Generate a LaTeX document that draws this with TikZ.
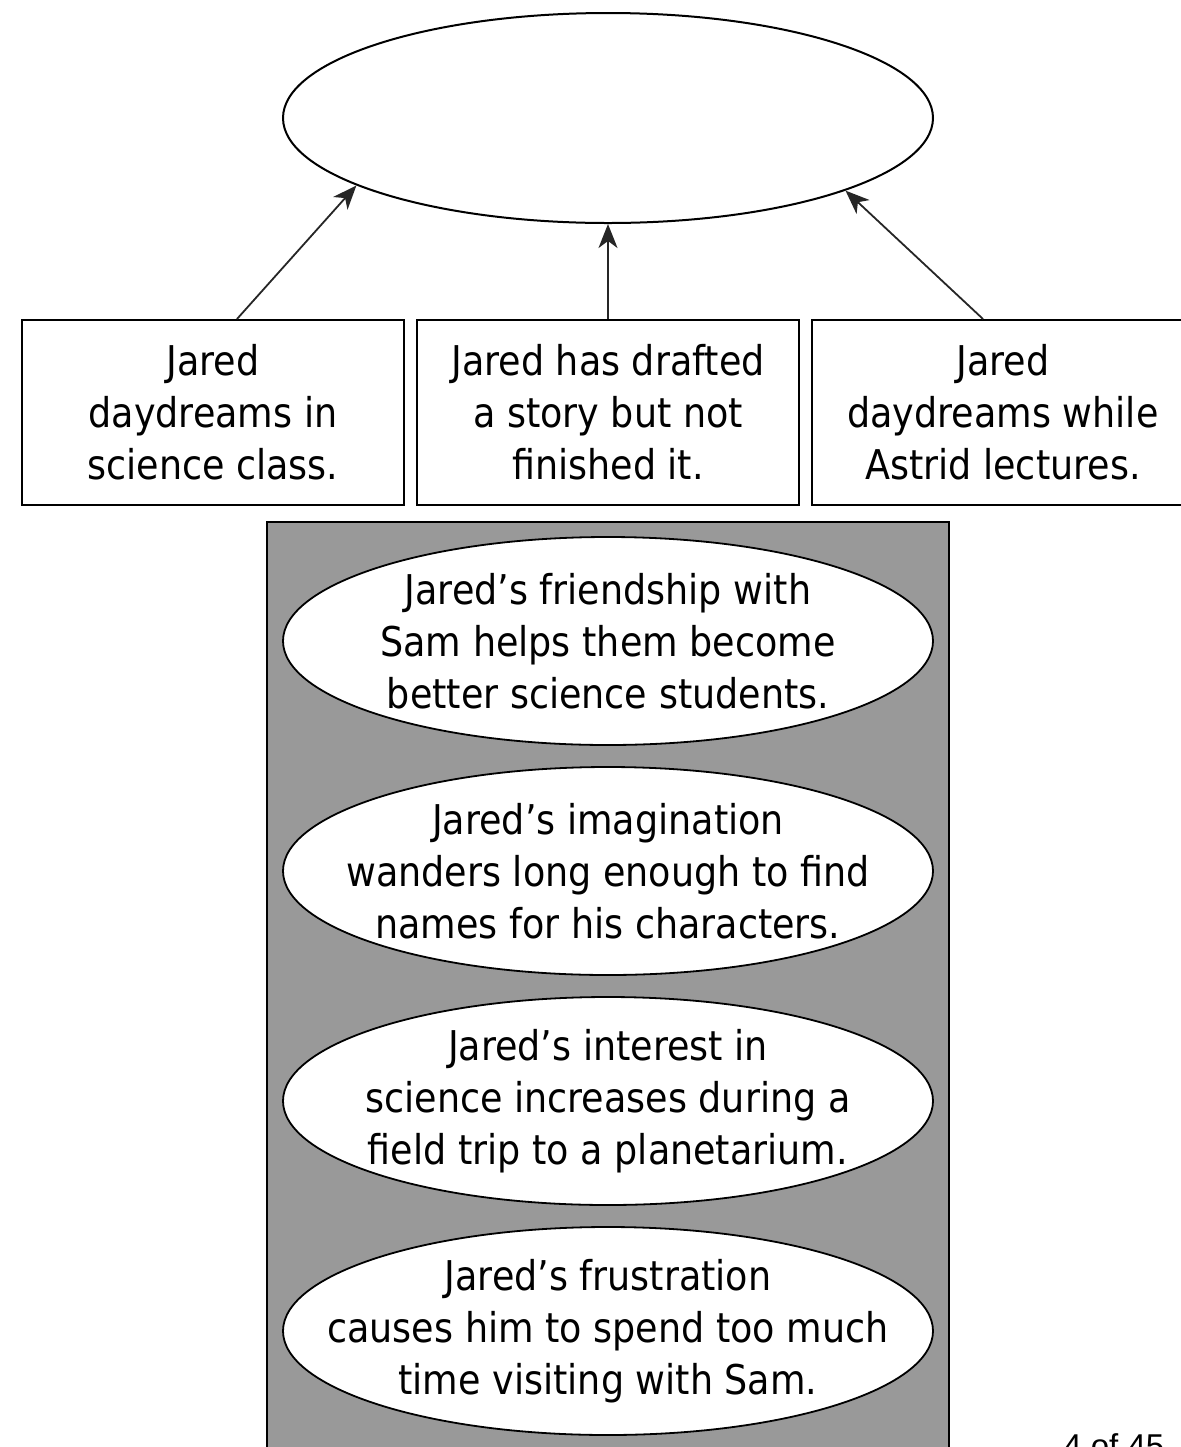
\documentclass[tikz,border=0pt]{standalone}
\usepackage{fontspec}
\setmainfont{DejaVu Sans}[FakeStretch=0.89]
\newfontfamily\pagefont{Liberation Sans}
\usetikzlibrary{shapes.geometric,arrows.meta,calc}
\definecolor{panelgray}{HTML}{999999}
\tikzset{
  txt/.style={font=\fontsize{20.5pt}{26pt}\selectfont, align=center, text=black},
  topell/.style={ellipse, draw=black, line width=1pt, fill=white, minimum width=325pt, minimum height=105pt, inner sep=0pt},
  optell/.style={ellipse, draw=black, line width=0.9pt, fill=white, minimum width=325pt, minimum height=104pt, inner sep=0pt},
  opttxt/.style={txt, inner sep=0pt},
  detbox/.style={rectangle, draw=black, line width=1pt, fill=white, minimum width=191pt, minimum height=92.5pt, inner sep=0pt, txt},
  arr/.style={draw=black!85, line width=0.9pt, -{Stealth[length=12pt,width=9.5pt,inset=3.5pt]}},
}
\begin{document}
\begin{tikzpicture}[x=0.5pt,y=-0.5pt]
\useasboundingbox (0,0) rectangle (1181,1447);
\clip (0,0) rectangle (1181,1447);
% top empty ellipse
\node[topell] (top) at (608,118) {};
% detail boxes
\node[detbox] (b1) at (213,412.5) {Jared\\daydreams in\\science class.};
\node[detbox] (b2) at (608,412.5) {Jared has drafted\\a story but not\\finished it.};
\node[detbox] (b3) at (1003,412.5) {Jared\\daydreams while\\Astrid lectures.};
% arrows
\coordinate (s1) at ($(b1.north)+(12pt,0)$);
\coordinate (s3) at ($(b3.north)+(-10pt,0)$);
\draw[arr] (s1) -- (top.195.7);
\draw[arr] (b2.north) -- (top.south);
\draw[arr] (s3) -- (top.343.4);
% gray panel
\node[rectangle, draw=black, line width=1pt, fill=panelgray, minimum width=341pt, minimum height=470pt, anchor=north west, inner sep=0pt] (panel) at (266,521) {};
% answer options
\node[optell] (o1) at (608,641) {};
\node[opttxt] (o1t) at (o1.center) {Jared’s friendship with\\Sam helps them become\\better science students.};
\node[optell] (o2) at (608,871) {};
\node[opttxt] (o2t) at (o2.center) {Jared’s imagination\\wanders long enough to find\\names for his characters.};
\node[optell] (o3) at (608,1101) {};
\node[opttxt] (o3t) at (o3.center) {Jared’s interest in\\science increases during a\\field trip to a planetarium.};
\node[optell] (o4) at (608,1331) {};
\node[opttxt] (o4t) at (o4.center) {Jared’s frustration\\causes him to spend too much\\time visiting with Sam.};
% page number
\node[anchor=north west, inner sep=0pt, font=\pagefont\fontsize{16.5pt}{20pt}\selectfont] (pg) at (1063,1433) {4 of 45};
\end{tikzpicture}
\end{document}
